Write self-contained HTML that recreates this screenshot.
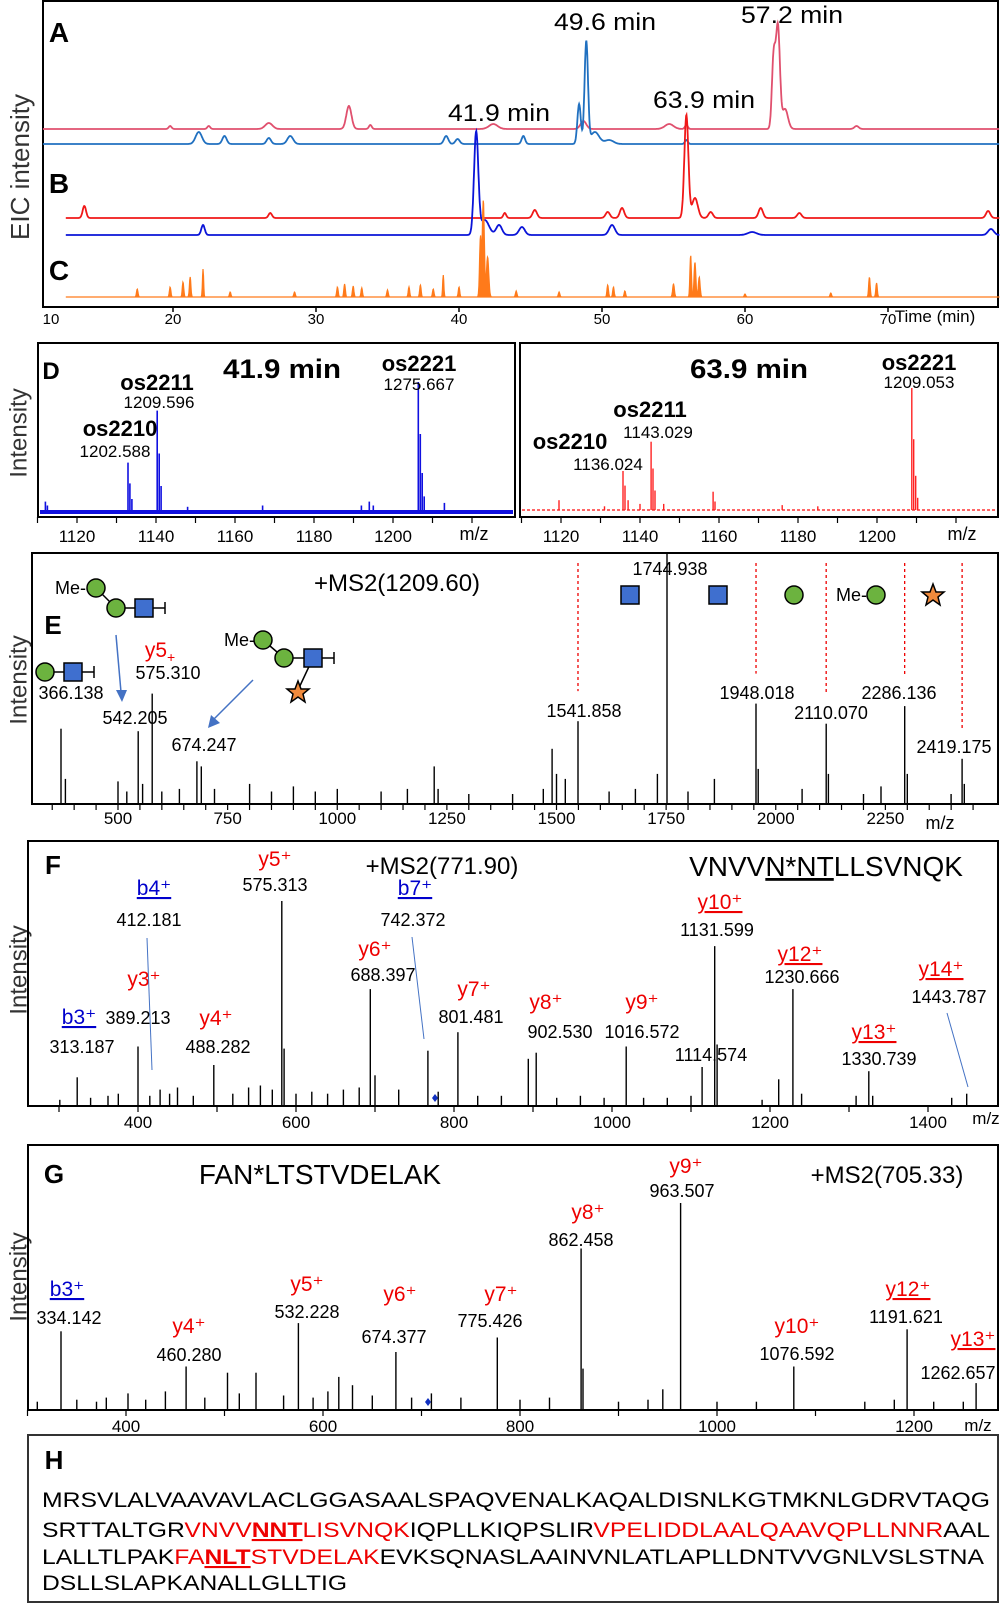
<!DOCTYPE html>
<html><head><meta charset="utf-8">
<style>
html,body{margin:0;padding:0;background:#fff;}
svg{display:block;font-family:"Liberation Sans",Arial,sans-serif;}
</style></head>
<body>
<svg id="fig" width="1000" height="1605" viewBox="0 0 1000 1605" xmlns="http://www.w3.org/2000/svg">
<g>
  <rect x="43" y="1" width="955" height="306" fill="none" stroke="#000" stroke-width="2"/>
  <text x="22" y="167" font-size="26" text-anchor="middle" transform="rotate(-90 22 167)" dominant-baseline="middle" fill="#333">EIC intensity</text>
  <text x="59" y="42" font-size="28" font-weight="bold" text-anchor="middle">A</text>
  <text x="59" y="193" font-size="28" font-weight="bold" text-anchor="middle">B</text>
  <text x="59" y="280" font-size="28" font-weight="bold" text-anchor="middle">C</text>
  <text x="605" y="30" font-size="24" text-anchor="middle" textLength="102" lengthAdjust="spacingAndGlyphs">49.6 min</text>
  <text x="792" y="23" font-size="24" text-anchor="middle" textLength="102" lengthAdjust="spacingAndGlyphs">57.2 min</text>
  <text x="499" y="121" font-size="24" text-anchor="middle" textLength="102" lengthAdjust="spacingAndGlyphs">41.9 min</text>
  <text x="704" y="108" font-size="24" text-anchor="middle" textLength="102" lengthAdjust="spacingAndGlyphs">63.9 min</text>
  <text x="935" y="322" font-size="17" text-anchor="middle">Time (min)</text>
  <g id="abcTraces"></g><g id="abcTicks"></g>
</g>
<g>
  <text x="20" y="433" font-size="24" text-anchor="middle" transform="rotate(-90 20 433)" dominant-baseline="middle" fill="#333">Intensity</text>
  <rect x="38" y="343" width="477" height="174" fill="none" stroke="#000" stroke-width="2"/>
  <rect x="520" y="343" width="478" height="174" fill="none" stroke="#000" stroke-width="2"/>
  <text x="51" y="379" font-size="24" font-weight="bold" text-anchor="middle">D</text>
  <text x="282" y="378" font-size="27" font-weight="bold" text-anchor="middle" textLength="118" lengthAdjust="spacingAndGlyphs">41.9 min</text>
  <text x="749" y="378" font-size="27" font-weight="bold" text-anchor="middle" textLength="118" lengthAdjust="spacingAndGlyphs">63.9 min</text>
  <text x="474" y="540" font-size="18" text-anchor="middle">m/z</text>
  <text x="962" y="540" font-size="18" text-anchor="middle">m/z</text>
  <g id="dMarks"></g>
</g>
<g>
  <text x="20" y="680" font-size="24" text-anchor="middle" transform="rotate(-90 20 680)" dominant-baseline="middle" fill="#333">Intensity</text>
  <rect x="32" y="553" width="966" height="251" fill="none" stroke="#000" stroke-width="2"/>
  <text x="53" y="634" font-size="26" font-weight="bold" text-anchor="middle">E</text>
  <text x="397" y="591" font-size="24" text-anchor="middle">+MS2(1209.60)</text>
  <text x="940" y="829" font-size="18" text-anchor="middle">m/z</text>
  <g id="eMarks"></g>
  <g stroke="#000" stroke-width="1.5">
    <rect x="621" y="586" width="18" height="18" fill="#3f6fcf"/>
    <rect x="709" y="586" width="18" height="18" fill="#3f6fcf"/>
    <circle cx="794" cy="595" r="9" fill="#6cb33f"/>
    <circle cx="876" cy="595" r="9" fill="#6cb33f"/>
    <polygon points="933,584 936,592 944,592 938,597 940,605 933,600 926,605 928,597 922,592 930,592" fill="#f08a3c"/>
    <line x1="96" y1="588" x2="116" y2="608"/><line x1="116" y1="608" x2="165" y2="608"/><line x1="165" y1="602" x2="165" y2="614"/>
    <circle cx="96" cy="588" r="9" fill="#6cb33f"/><circle cx="116" cy="608" r="9" fill="#6cb33f"/>
    <rect x="135" y="599" width="18" height="18" fill="#3f6fcf"/>
    <line x1="45" y1="672" x2="94" y2="672"/><line x1="94" y1="666" x2="94" y2="678"/>
    <circle cx="45" cy="672" r="9" fill="#6cb33f"/><rect x="64" y="663" width="18" height="18" fill="#3f6fcf"/>
    <line x1="263" y1="640" x2="284" y2="658"/><line x1="284" y1="658" x2="334" y2="658"/><line x1="334" y1="652" x2="334" y2="664"/><line x1="313" y1="658" x2="298" y2="690"/>
    <circle cx="263" cy="640" r="9" fill="#6cb33f"/><circle cx="284" cy="658" r="9" fill="#6cb33f"/>
    <rect x="304" y="649" width="18" height="18" fill="#3f6fcf"/>
    <polygon points="298,681 301,689 309,689 303,694 305,702 298,697 291,702 293,694 287,689 295,689" fill="#f08a3c"/>
  </g>
  <text x="86" y="594" font-size="18" text-anchor="end">Me-</text>
  <text x="255" y="646" font-size="18" text-anchor="end">Me-</text>
  <text x="867" y="601" font-size="18" text-anchor="end">Me-</text>
  <line x1="116" y1="635" x2="121" y2="692" stroke="#4472c4" stroke-width="1.5"/>
  <polygon points="116,690 127,690 122,702" fill="#4472c4"/>
  <line x1="253" y1="680" x2="214" y2="719" stroke="#4472c4" stroke-width="1.5"/>
  <polygon points="208,728 211,715 220,723" fill="#4472c4"/>
  <text x="160" y="657" font-size="21" fill="#e00" text-anchor="middle">y5<tspan font-size="14" dy="5">+</tspan></text>
</g>
<g>
  <text x="20" y="970" font-size="24" text-anchor="middle" transform="rotate(-90 20 970)" dominant-baseline="middle" fill="#333">Intensity</text>
  <rect x="28" y="841" width="970" height="265" fill="none" stroke="#000" stroke-width="2"/>
  <text x="53" y="874" font-size="26" font-weight="bold" text-anchor="middle">F</text>
  <text x="442" y="874" font-size="24" text-anchor="middle">+MS2(771.90)</text>
  <text x="826" y="876" font-size="28" text-anchor="middle">VNVV<tspan text-decoration="underline">N*NT</tspan>LLSVNQK</text>
  <text x="986" y="1124" font-size="17" text-anchor="middle">m/z</text>
  <g id="fMarks"></g>
</g>
<g>
  <text x="20" y="1277" font-size="24" text-anchor="middle" transform="rotate(-90 20 1277)" dominant-baseline="middle" fill="#333">Intensity</text>
  <rect x="28" y="1145" width="970" height="265" fill="none" stroke="#000" stroke-width="2"/>
  <text x="54" y="1183" font-size="26" font-weight="bold" text-anchor="middle">G</text>
  <text x="320" y="1184" font-size="28" text-anchor="middle">FAN*LTSTVDELAK</text>
  <text x="887" y="1183" font-size="24" text-anchor="middle">+MS2(705.33)</text>
  <text x="978" y="1431" font-size="17" text-anchor="middle">m/z</text>
  <g id="gMarks"></g>
</g>
<g>
  <rect x="28" y="1435" width="970" height="167" fill="none" stroke="#333" stroke-width="2"/>
  <text x="54" y="1469" font-size="26" font-weight="bold" text-anchor="middle">H</text>
  <text x="42" y="1507" font-size="21" textLength="948" lengthAdjust="spacingAndGlyphs">MRSVLALVAAVAVLACLGGASAALSPAQVENALKAQALDISNLKGTMKNLGDRVTAQG</text>
  <text x="42" y="1537" font-size="21" textLength="948" lengthAdjust="spacingAndGlyphs">SRTTALTGR<tspan fill="#e00">VNVV</tspan><tspan fill="#e00" font-weight="bold" text-decoration="underline">NNT</tspan><tspan fill="#e00">LISVNQK</tspan>IQPLLKIQPSLIR<tspan fill="#e00">VPELIDDLAALQAAVQPLLNNR</tspan>AAL</text>
  <text x="42" y="1564" font-size="21" textLength="942" lengthAdjust="spacingAndGlyphs">LALLTLPAK<tspan fill="#e00">FA</tspan><tspan fill="#e00" font-weight="bold" text-decoration="underline">NLT</tspan><tspan fill="#e00">STVDELAK</tspan>EVKSQNASLAAINVNLATLAPLLDNTVVGNLVSLSTNA</text>
  <text x="42" y="1590" font-size="21" textLength="305" lengthAdjust="spacingAndGlyphs">DSLLSLAPKANALLGLLTIG</text>
</g>
</svg>
<script>
const timeTicks = [10, 20, 30, 40, 50, 60, 70];
const pinkA = [[19.8,3,0.1],[22.5,3,0.1],[26.7,6,0.25],[32.3,23,0.18],[33.8,4,0.1],[42.4,5,0.3],[48.7,8,0.2],[54.7,5,0.3],[55.9,4,0.1],[62.0,70,0.12],[62.3,102,0.14],[62.8,20,0.2],[67.8,3,0.15]];
const blueA = [[21.8,12,0.22],[23.6,8,0.15],[26.7,6,0.15],[28.2,8,0.2],[39.1,8,0.15],[39.9,5,0.15],[44.5,8,0.12],[48.4,40,0.12],[48.9,102,0.12],[49.5,12,0.3],[50.5,4,0.3],[55.9,4,0.1]];
const redB = [[13.8,12,0.12],[26.8,5,0.12],[43.2,5,0.1],[45.3,8,0.15],[50.4,6,0.15],[51.4,10,0.15],[55.9,103,0.14],[56.5,20,0.2],[57.6,6,0.15],[61.1,10,0.15],[63.8,5,0.15],[77.0,7,0.15]];
const blueB = [[22.1,10,0.12],[41.2,102,0.15],[41.8,15,0.3],[42.8,10,0.2],[44.4,8,0.2],[50.7,10,0.2],[60.5,3,0.3],[77.2,6,0.2]];
const orangeC = [[17.5,8,0.05],[19.8,10,0.05],[20.7,15,0.05],[21.2,20,0.05],[22.1,28,0.04],[24.0,5,0.05],[28.5,5,0.05],[31.5,10,0.05],[32.0,13,0.05],[32.6,11,0.05],[33.2,9,0.05],[35.0,7,0.05],[36.5,10,0.05],[37.3,12,0.05],[38.2,8,0.05],[38.9,22,0.04],[40.0,10,0.05],[41.5,60,0.06],[41.7,97,0.07],[42.0,40,0.08],[44.0,6,0.05],[47.0,5,0.05],[50.4,12,0.05],[50.8,10,0.05],[51.6,6,0.05],[55.0,13,0.06],[56.2,42,0.05],[56.5,35,0.06],[56.8,20,0.06],[60.0,3,0.05],[66.0,4,0.05],[68.7,20,0.05],[69.2,14,0.05]];
const dLeftTicks = [1120, 1140, 1160, 1180, 1200];
const dLeftPeaks = [[1112,8],[1112.5,5],[1132.9,38],[1133.4,22],[1133.9,10],[1140.3,78],[1140.8,45],[1141.3,20],[1148,4],[1167,5],[1192,5],[1194,8],[1195,5],[1206.4,100],[1206.9,60],[1207.4,30],[1207.9,12],[1213,7]];
const dRightTicks = [1120, 1140, 1160, 1180, 1200];
const dRightPeaks = [[1119.5,8],[1131,3],[1135.7,32],[1136.2,20],[1137,8],[1140,5],[1142.8,56],[1143.3,34],[1143.8,16],[1146,5],[1158.5,15],[1159,7],[1176,4],[1185,3],[1208.8,100],[1209.3,58],[1209.8,28],[1210.3,10]];
const dLeftLabels = [["os2210",120,436,true],["1202.588",115,457,false],["os2211",157,390,true],["1209.596",159,408,false],["os2221",419,371,true],["1275.667",419,390,false]];
const dRightLabels = [["os2210",570,449,true],["1136.024",608,470,false],["os2211",650,417,true],["1143.029",658,438,false],["os2221",919,370,true],["1209.053",919,388,false]];
const eTicks = [500, 750, 1000, 1250, 1500, 1750, 2000, 2250];
const ePeaks = [[370,30],[380,10],[500,9],[520,5],[546,29],[556,8],[578,44],[600,5],[640,6],[680,17],[690,15],[720,6],[800,8],[850,5],[900,7],[950,5],[1000,6],[1100,5],[1160,6],[1221,15],[1230,6],[1300,4],[1400,4],[1470,6],[1490,22],[1500,12],[1520,10],[1549,33],[1620,5],[1680,6],[1730,12],[1752,100],[1800,5],[1860,10],[1955,40],[1960,14],[2060,6],[2115,32],[2120,12],[2200,4],[2240,7],[2294,39],[2300,12],[2400,4],[2425,18],[2430,8]];
const eLabels = [["366.138",71,699],["542.205",135,724],["575.310",168,679],["674.247",204,751],["1541.858",584,717],["1744.938",670,575],["1948.018",757,699],["2110.070",831,719],["2286.136",899,699],["2419.175",954,753]];
const eLossMz = [1549, 1955, 2115, 2294, 2425];
const fTicks = [400, 600, 800, 1000, 1200, 1400];
const fPeaks = [[301,3],[323,14],[340,4],[362,5],[375,6],[400,29],[415,5],[428,8],[440,6],[450,9],[470,5],[496,20],[520,6],[540,9],[555,10],[570,8],[582,100],[585,28],[600,6],[620,7],[640,6],[660,8],[680,9],[694,57],[700,15],[730,8],[767,27],[780,7],[805,36],[830,5],[860,5],[894,23],[904,26],[930,4],[960,5],[990,4],[1018,29],[1040,4],[1070,4],[1100,5],[1114,19],[1130,78],[1133,30],[1190,3],[1211,13],[1229,57],[1240,6],[1309,5],[1325,17],[1330,5],[1430,4],[1449,6]];
const fLabels = [["b4⁺",154,895,"#00c",true],["412.181",149,926,"#000",false],["b7⁺",415,895,"#00c",true],["742.372",413,926,"#000",false],["y5⁺",275,866,"#e00",false],["575.313",275,891,"#000",false],["y10⁺",720,909,"#e00",true],["1131.599",717,936,"#000",false],["y12⁺",800,961,"#e00",true],["1230.666",802,983,"#000",false],["y14⁺",941,976,"#e00",true],["1443.787",949,1003,"#000",false],["y6⁺",375,956,"#e00",false],["688.397",383,981,"#000",false],["y7⁺",474,996,"#e00",false],["801.481",471,1023,"#000",false],["y8⁺",546,1009,"#e00",false],["902.530",560,1038,"#000",false],["y9⁺",642,1009,"#e00",false],["1016.572",642,1038,"#000",false],["1114.574",711,1061,"#000",false],["y13⁺",874,1039,"#e00",true],["1330.739",879,1065,"#000",false],["y3⁺",144,986,"#e00",false],["b3⁺",79,1024,"#00c",true],["389.213",138,1024,"#000",false],["y4⁺",216,1025,"#e00",false],["488.282",218,1053,"#000",false],["313.187",82,1053,"#000",false]];
const gTicks = [400, 600, 800, 1000, 1200];
const gPeaks = [[310,4],[334,38],[350,5],[370,4],[380,6],[402,8],[420,5],[440,9],[461,21],[480,6],[503,18],[515,8],[532,18],[560,7],[575,42],[590,6],[605,9],[616,16],[630,12],[650,7],[674,28],[690,6],[710,8],[740,6],[777,35],[800,5],[830,6],[862,78],[864,20],[900,4],[930,5],[945,10],[963,100],[1000,4],[1040,4],[1078,21],[1150,4],[1180,5],[1193,39],[1220,4],[1250,4],[1263,13]];
const gLabels = [["b3⁺",67,1296,"#00c",true],["334.142",69,1324,"#000",false],["y4⁺",189,1333,"#e00",false],["460.280",189,1361,"#000",false],["y5⁺",307,1291,"#e00",false],["532.228",307,1318,"#000",false],["y6⁺",400,1301,"#e00",false],["674.377",394,1343,"#000",false],["y7⁺",501,1301,"#e00",false],["775.426",490,1327,"#000",false],["y8⁺",588,1219,"#e00",false],["862.458",581,1246,"#000",false],["y9⁺",686,1173,"#e00",false],["963.507",682,1197,"#000",false],["y10⁺",797,1333,"#e00",false],["1076.592",797,1360,"#000",false],["y12⁺",908,1296,"#e00",true],["1191.621",906,1323,"#000",false],["y13⁺",973,1346,"#e00",true],["1262.657",958,1379,"#000",false]];

const NS = "http://www.w3.org/2000/svg";
const tx = t => 316 + (t - 30) * 14.3;
const dxL = m => 77 + (m - 1120) * 3.95;
const dxR = m => 561 + (m - 1120) * 3.95;
const ex = m => 118 + (m - 500) * 0.4385;
const fx = m => 138 + (m - 400) * 0.79;
const gx = m => 126 + (m - 400) * 0.985;
function mk(tag, attrs, parent) {
  const el = document.createElementNS(NS, tag);
  for (const k in attrs) el.setAttribute(k, attrs[k]);
  parent.appendChild(el);
  return el;
}
function sig(peaks, t) {
  let v = 0;
  for (const p of peaks) { const z = (t - p[0]) / p[2]; if (Math.abs(z) < 6) v += p[1] * Math.exp(-0.5 * z * z); }
  return v;
}
const abc = document.getElementById('abcTraces');
function drawTrace(peaks, t0, t1, base, color, name, fill) {
  let pts = [];
  for (let t = t0; t <= t1; t += 0.03) {
    const v = sig(peaks, t);
    pts.push(tx(t).toFixed(1) + ',' + (base - v).toFixed(1));
  }
  let el;
  if (fill) {
    pts.unshift(tx(t0).toFixed(1) + ',' + base); pts.push(tx(t1).toFixed(1) + ',' + base);
    el = mk('polygon', {points: pts.join(' '), fill: color, stroke: color, 'stroke-width': 1.2}, abc);
  } else {
    el = mk('polyline', {points: pts.join(' '), fill: 'none', stroke: color, 'stroke-width': 1.8}, abc);
  }
  
  
}
drawTrace(pinkA, 10.9, 77.8, 129, '#e0506e', 'trace-a-pink', false);
drawTrace(blueA, 10.9, 77.8, 144, '#2070c0', 'trace-a-blue', false);
drawTrace(redB, 12.5, 77.8, 218, '#f01818', 'trace-b-red', false);
drawTrace(blueB, 12.5, 77.8, 235, '#0a14d8', 'trace-b-blue', false);
drawTrace(orangeC, 12.5, 77.8, 297, '#ff7a1a', 'trace-c-orange', true);
const abct = document.getElementById('abcTicks');
for (const t of timeTicks) {
  const x = Math.max(tx(t), 51);
  if (tx(t) > 44) {
    const tk = mk('line', {x1: tx(t), y1: 307, x2: tx(t), y2: 312, stroke: '#000', 'stroke-width': 1.5}, abct);
    
    
  }
  const lb = mk('text', {x: x, y: 324, 'font-size': 15, 'text-anchor': 'middle'}, abct);
  lb.textContent = t;
  
  
}
function sticks(parent, peaks, xf, base, maxH, color, prefix, w) {
  for (const p of peaks) {
    const x = xf(p[0]);
    const l = mk('line', {x1: x.toFixed(1), y1: base, x2: x.toFixed(1), y2: (base - p[1] / 100 * maxH).toFixed(1), stroke: color, 'stroke-width': w}, parent);
    
    
  }
}
function axisTicks(parent, ticks, xf, y, minorStep, lo, hi, prefix, labelDy) {
  for (let m = lo; m <= hi; m += minorStep) {
    const tk = mk('line', {x1: xf(m), y1: y, x2: xf(m), y2: y + 6, stroke: '#000', 'stroke-width': 1.2}, parent);
    
    
  }
  for (const m of ticks) {
    const lb = mk('text', {x: xf(m), y: y + labelDy, 'font-size': 17, 'text-anchor': 'middle'}, parent);
    lb.textContent = m;
    
    
  }
}
function textLabels(parent, arr, prefix, size) {
  for (const a of arr) {
    const t = mk('text', {x: a[1], y: a[2], 'font-size': a[3] === true ? 22 : size, 'font-weight': a[3] === true ? 'bold' : 'normal', 'text-anchor': 'middle'}, parent);
    t.textContent = a[0];
    
    
  }
}
function ionLabels(parent, arr, prefix) {
  for (const a of arr) {
    const t = mk('text', {x: a[1], y: a[2], 'font-size': a[3] === '#000' ? 18 : 21, fill: a[3], 'text-anchor': 'middle'}, parent);
    if (a[4]) t.setAttribute('text-decoration', 'underline');
    t.textContent = a[0];
    
    
  }
}
const dg = document.getElementById('dMarks');
const lnL = mk('line', {x1: 40, y1: 512, x2: 513, y2: 512, stroke: '#1010e0', 'stroke-width': 4}, dg);


const lnR = mk('line', {x1: 522, y1: 510, x2: 996, y2: 510, stroke: '#f33', 'stroke-width': 1.5, 'stroke-dasharray': '3 2'}, dg);


sticks(dg, dLeftPeaks, dxL, 512, 130, '#1010e0', 'd-left', 1.6);
sticks(dg, dRightPeaks, dxR, 510, 122, '#f22', 'd-right', 1.4);
axisTicks(dg, dLeftTicks, dxL, 517, 10, 1110, 1220, 'd-left', 25);
axisTicks(dg, dRightTicks, dxR, 517, 10, 1110, 1220, 'd-right', 25);
textLabels(dg, dLeftLabels, 'd-left', 17);
textLabels(dg, dRightLabels, 'd-right', 17);
const eg = document.getElementById('eMarks');
for (const m of eLossMz) {
  const p = ePeaks.find(q => q[0] === m);
  const dl = mk('line', {x1: ex(m), y1: 563, x2: ex(m), y2: 804 - p[1] / 100 * 251 - 30, stroke: '#e00', 'stroke-width': 1.3, 'stroke-dasharray': '3 3'}, eg);
  
  
}
sticks(eg, ePeaks, ex, 804, 251, '#000', 'e', 1.4);
axisTicks(eg, eTicks, ex, 804, 50, 350, 2450, 'e', 20);
textLabels(eg, eLabels, 'e', 18);
const fgp = document.getElementById('fMarks');
sticks(fgp, fPeaks, fx, 1106, 205, '#000', 'f', 1.4);
axisTicks(fgp, fTicks, fx, 1106, 100, 300, 1400, 'f', 22);
ionLabels(fgp, fLabels, 'f');
const leaders = [[147, 938, 152, 1070], [412, 937, 424, 1039], [947, 1013, 968, 1087]];
leaders.forEach((l, i) => {
  const el = mk('line', {x1: l[0], y1: l[1], x2: l[2], y2: l[3], stroke: '#4472c4', 'stroke-width': 1}, fgp);
  
  
});
const fd = mk('polygon', {points: '435,1094 438,1098 435,1102 432,1098', fill: '#1030c0'}, fgp);


const ggp = document.getElementById('gMarks');
sticks(ggp, gPeaks, gx, 1410, 207, '#000', 'g', 1.4);
axisTicks(ggp, gTicks, gx, 1410, 100, 300, 1300, 'g', 22);
ionLabels(ggp, gLabels, 'g');
const gd = mk('polygon', {points: '428,1398 431,1402 428,1406 425,1402', fill: '#1030c0'}, ggp);


</script>
</body></html>
